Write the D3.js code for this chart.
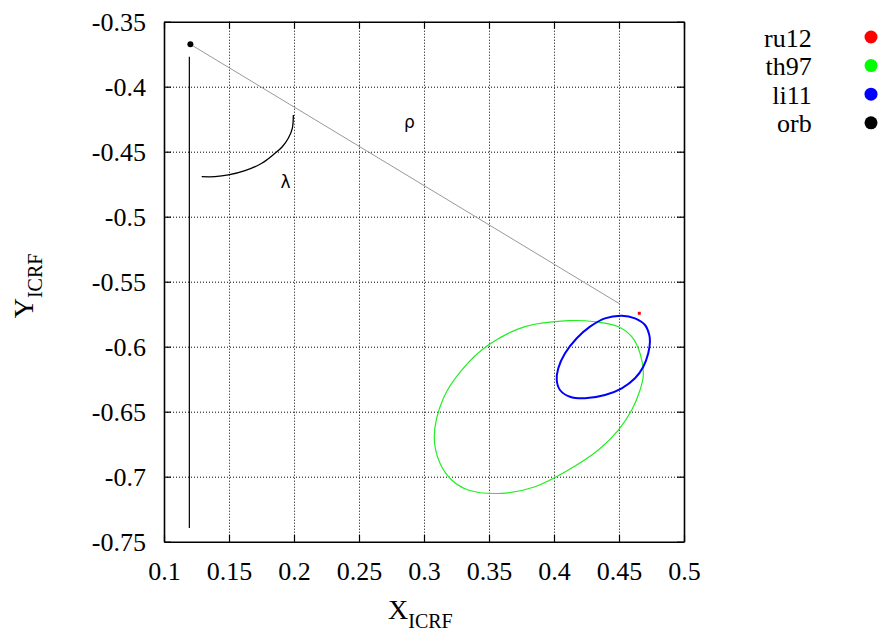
<!DOCTYPE html>
<html>
<head>
<meta charset="utf-8">
<script src="https://d3js.org/d3.v7.min.js"></script>
<style>
  body { margin:0; background:white; }
  svg text { font-family: "Liberation Serif", "Times New Roman", serif; }
</style>
</head>
<body>
<div id="chart_box"></div>
<script>
    // data
    var x_ticks = [0.1, 0.15, 0.2, 0.25, 0.3, 0.35, 0.4, 0.45, 0.5]
    var y_ticks = [-0.35, -0.4, -0.45, -0.5, -0.55, -0.6, -0.65, -0.7, -0.75]
    var legend_names = ['ru12', 'th97', 'li11', 'orb']
    var legend_colors = ['#ff0000', '#00ff00', '#0000ff', '#000000']

    var ru12 = [[0.4656, -0.5743]]
    var th97_x = [0.411, 0.3777, 0.3495, 0.329, 0.3149, 0.3079, 0.3123, 0.3213, 0.3341, 0.3598, 0.3854,
                  0.411, 0.4341, 0.4495, 0.4598, 0.4662, 0.4687, 0.4662, 0.4598, 0.4495, 0.4315]
    var th97_y = [-0.580, -0.5846, -0.5987, -0.618, -0.6397, -0.6692, -0.6897, -0.7025, -0.7102, -0.7128, -0.7077,
                  -0.6949, -0.6795, -0.6641, -0.6487, -0.6333, -0.6218, -0.6051, -0.5923, -0.5846, -0.5808]
    var li11_x = [0.4521, 0.4623, 0.4700, 0.4733, 0.4738, 0.4725, 0.4687, 0.4623, 0.4521, 0.4392, 0.4238,
                  0.4123, 0.4046, 0.4021, 0.4033, 0.4085, 0.4175, 0.4277, 0.4392]
    var li11_y = [-0.5762, -0.5782, -0.5833, -0.5910, -0.5962, -0.6051, -0.6154, -0.6243, -0.6320, -0.6372, -0.6397,
                  -0.6385, -0.6333, -0.6256, -0.6166, -0.6051, -0.5935, -0.5846, -0.5782]
    var orb = [0.1203, -0.3674]
    var rho_line = [[0.1203, -0.3674], [0.4508, -0.5672]]
    var north_line = [[0.1195, -0.3769], [0.1195, -0.7395]]
    var lambda_arc = [[0.1995, -0.4218], [0.1987, -0.4320], [0.1956, -0.4397], [0.1910, -0.4462], [0.1854, -0.4512],
                      [0.1752, -0.4589], [0.1623, -0.4646], [0.1495, -0.4679], [0.1392, -0.4692], [0.1290, -0.4692]]
    var annotations = [{t:'ρ', x:0.2887, y:-0.4315}, {t:'λ', x:0.1935, y:-0.478}]

    //globals
    var width = 879
    var height = 633
    var xscale = d3.scaleLinear().domain([0.1, 0.5]).range([164, 684])
    var yscale = d3.scaleLinear().domain([-0.75, -0.35]).range([541.7, 21.7])
    var chart_box

    load_chart_box()
    load_legend()

    function load_chart_box(){
        chart_box = d3.select('#chart_box').append('svg')
            .attr('width', width)
            .attr('height', height)

        //gridlines
        chart_box.append('g')
            .attr('transform', 'translate(0,' + yscale(-0.75) + ')')
            .call(d3.axisBottom(xscale).tickValues(x_ticks.slice(1, -1)).tickSize(-520).tickFormat(''))
            .call(g => g.select('.domain').remove())
            .selectAll('line').attr('stroke', '#000').attr('stroke-dasharray', '1,2')
        chart_box.append('g')
            .attr('transform', 'translate(' + xscale(0.1) + ',0)')
            .call(d3.axisLeft(yscale).tickValues(y_ticks.slice(1, -1)).tickSize(-520).tickFormat(''))
            .call(g => g.select('.domain').remove())
            .selectAll('line').attr('stroke', '#000').attr('stroke-dasharray', '1,2')

        // axes, ticks inward on all four sides
        var bottom = chart_box.append('g')
            .attr('transform', 'translate(0,' + yscale(-0.75) + ')')
            .call(d3.axisBottom(xscale).tickValues(x_ticks).tickFormat(d => String(d))
                .tickSize(-7).tickPadding(0).tickSizeOuter(0))
        bottom.selectAll('text').attr('dy', null).attr('y', 38)
            .style('font-family', '"Liberation Serif", serif').style('font-size', '26px').attr('fill', '#000')
        var left = chart_box.append('g')
            .attr('transform', 'translate(' + xscale(0.1) + ',0)')
            .call(d3.axisLeft(yscale).tickValues(y_ticks).tickFormat(d => String(d))
                .tickSize(-7).tickPadding(0).tickSizeOuter(0))
        left.selectAll('text').attr('x', -18)
            .style('font-family', '"Liberation Serif", serif').style('font-size', '26px').attr('fill', '#000')
        chart_box.append('g')
            .attr('transform', 'translate(0,' + yscale(-0.35) + ')')
            .call(d3.axisTop(xscale).tickValues(x_ticks).tickSize(-7).tickFormat('').tickSizeOuter(0))
        chart_box.append('g')
            .attr('transform', 'translate(' + xscale(0.5) + ',0)')
            .call(d3.axisRight(yscale).tickValues(y_ticks).tickSize(-7).tickFormat('').tickSizeOuter(0))
        chart_box.selectAll('.domain').attr('stroke', '#000').attr('stroke-width', 1.6)
        chart_box.selectAll('.tick line:not([stroke-dasharray])').attr('stroke-width', 1.2)

        var line = d3.line().x(d => xscale(d[0])).y(d => yscale(d[1]))
        var closed = d3.line().x(d => xscale(d[0])).y(d => yscale(d[1])).curve(d3.curveCatmullRomClosed.alpha(0.5))
        var smooth = d3.line().x(d => xscale(d[0])).y(d => yscale(d[1])).curve(d3.curveCatmullRom.alpha(0.5))

        chart_box.append('path').attr('d', line(rho_line))
            .attr('fill', 'none').attr('stroke', '#999').attr('stroke-width', 1)
        chart_box.append('path').attr('d', line(north_line))
            .attr('fill', 'none').attr('stroke', '#000').attr('stroke-width', 1.2)
        chart_box.append('path').attr('d', smooth(lambda_arc))
            .attr('fill', 'none').attr('stroke', '#000').attr('stroke-width', 1.3)

        var th97 = th97_x.map((v, i) => [v, th97_y[i]])
        var li11 = li11_x.map((v, i) => [v, li11_y[i]])
        chart_box.append('path').attr('d', closed(th97))
            .attr('fill', 'none').attr('stroke', '#22ee22').attr('stroke-width', 1.2)
        chart_box.append('path').attr('d', closed(li11))
            .attr('fill', 'none').attr('stroke', '#0000ff').attr('stroke-width', 2)

        chart_box.selectAll('rect.ru12')
            .data(ru12).enter().append('rect').attr('class', 'ru12')
            .attr('x', d => xscale(d[0]) - 1.5).attr('y', d => yscale(d[1]) - 1.5)
            .attr('width', 3).attr('height', 3).attr('fill', '#ff0000')
        chart_box.append('circle')
            .attr('cx', xscale(orb[0])).attr('cy', yscale(orb[1])).attr('r', 3).attr('fill', '#000')

        chart_box.selectAll('text.ann')
            .data(annotations).enter().append('text').attr('class', 'ann')
            .attr('x', d => xscale(d.x)).attr('y', d => yscale(d.y))
            .attr('text-anchor', 'middle')
            .style('font-family', '"DejaVu Sans", sans-serif').attr('font-size', 17)
            .text(d => d.t)

        // axis titles
        var xt = chart_box.append('text').attr('x', 388).attr('y', 619).attr('font-size', 28)
        xt.append('tspan').text('X')
        xt.append('tspan').attr('dy', 9).attr('font-size', 20).text('ICRF')
        var yt = chart_box.append('text').attr('transform', 'translate(32.7,318.3) rotate(-90)').attr('font-size', 28)
        yt.append('tspan').text('Y')
        yt.append('tspan').attr('dy', 9).attr('font-size', 20).text('ICRF')
    }

    function load_legend(){
        var legend = chart_box.append('g')
        legend.selectAll('text')
            .data(legend_names).enter().append('text')
            .attr('x', 811.7).attr('y', (d, i) => 46.7 + i * 28.4)
            .attr('text-anchor', 'end').attr('font-size', 26)
            .text(d => d)
        legend.selectAll('circle')
            .data(legend_names).enter().append('circle')
            .attr('cx', 871).attr('cy', (d, i) => 37 + i * 28.6)
            .attr('r', 6.5)
            .attr('fill', (d, i) => legend_colors[i])
    }
</script>
</body>
</html>
